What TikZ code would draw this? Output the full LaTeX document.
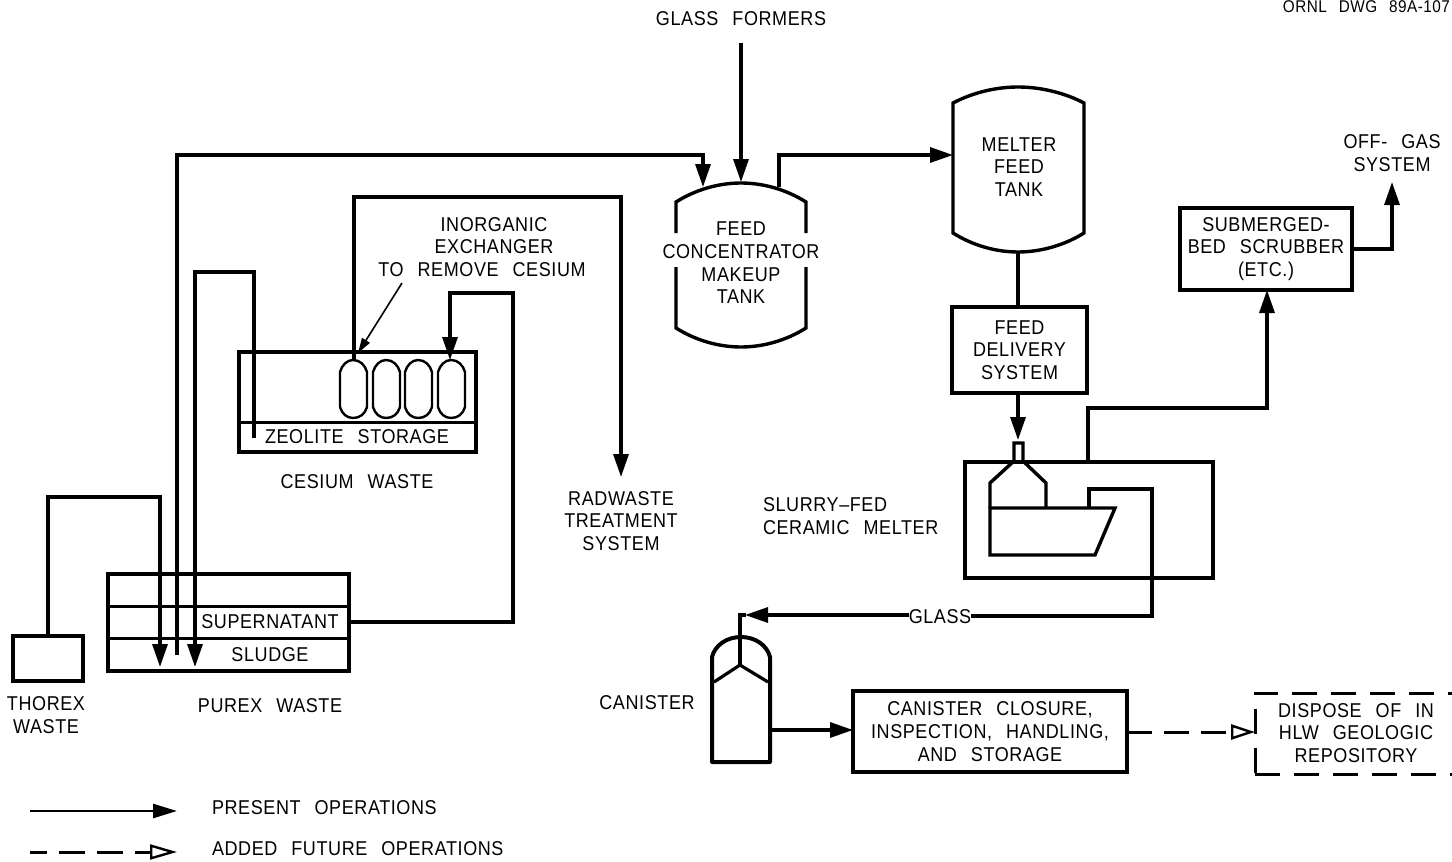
\documentclass[tikz,border=0pt]{standalone}
\usepackage{fontspec}
\setmainfont{Liberation Sans}[FakeStretch=0.9,LetterSpace=3,WordSpace=2.5]
\usetikzlibrary{arrows.meta}
\tikzset{
  x=1pt,y=-1pt,
  wall/.style={line width=3.4pt,line join=miter},
  pipe/.style={line width=3.2pt,line join=miter},
  flow/.style={pipe,-{Triangle[length=23pt,width=15pt]}},
  futureflow/.style={line width=3pt,dash pattern=on 25pt off 12pt,-{Triangle[open,length=24pt,width=15pt,line width=2.4pt]}},
  vessel/.style={draw,line width=3.4pt,inner sep=0pt,outer sep=0pt,font=\fontsize{20}{22.7}\selectfont,align=center},
  lbl/.style={inner sep=0pt,outer sep=0pt,font=\fontsize{20}{22.7}\selectfont,align=center}
}
\newcommand{\boxat}[6]{\node[vessel,anchor=north west,minimum width=#4,minimum height=#5] (#1) at (#2,#3) {#6};}
\begin{document}
\begin{tikzpicture}
\useasboundingbox (0,0) rectangle (1452,862);
\clip (0,0) rectangle (1452,862);
% header
\node[lbl,anchor=east,font=\fontsize{17}{20}\selectfont] (dwg) at (1450,7) {ORNL DWG 89A-107};
\node[lbl] (former) at (741,19) {GLASS FORMERS};
% makeup tank
\draw[wall] (676,233) -- (676,202) .. controls (695,190) and (718,183) .. (741,183) .. controls (764,183) and (787,190) .. (806,202) -- (806,233);
\draw[wall] (676,267) -- (676,328) .. controls (695,340) and (718,347) .. (741,347) .. controls (764,347) and (787,340) .. (806,328) -- (806,267);
\node[lbl] (makeup) at (741,263) {FEED\\CONCENTRATOR\\MAKEUP\\TANK};
\coordinate (makeupIn) at (741,182);
\coordinate (makeupInB) at (703,187);
\coordinate (makeupOut) at (779,187);
% melter feed tank
\draw[wall] (953,103) .. controls (972,93) and (995,87) .. (1018,87) .. controls (1041,87) and (1065,93) .. (1084,103) -- (1084,233) .. controls (1065,245) and (1041,252) .. (1018,252) .. controls (995,252) and (972,245) .. (953,233) -- cycle;
\node[lbl] (meltertank) at (1019,167) {MELTER\\FEED\\TANK};
\coordinate (mtIn) at (953,155);
\coordinate (mtOut) at (1018,252);
\boxat{delivery}{952}{307}{135pt}{86pt}{FEED\\DELIVERY\\SYSTEM}
\boxat{scrub}{1180}{208}{172pt}{82pt}{SUBMERGED-\\BED SCRUBBER\\(ETC.)}
\coordinate (offgas) at (1392,182);
\node[lbl] (offgaslbl) at (1392,153) {OFF- GAS\\SYSTEM};
\coordinate (scrubOut) at (1352,249);
\coordinate (scrubIn) at (1267,290);
% melter
\boxat{melter}{965}{462}{248pt}{116pt}{}
\draw[wall] (1014,461) -- (1014,443) -- (1023,443) -- (1023,461) -- (1046,483) -- (1046,508);
\draw[wall] (1014,461) -- (990,483) -- (990,508);
\draw[wall] (990,508) -- (1115,508) -- (1095,555) -- (990,555) -- cycle;
\coordinate (nozzle) at (1018,440);
\coordinate (meltOutA) at (1088,462);
\coordinate (pour) at (1089,508);
\node[lbl,anchor=west,align=left] (meltlbl) at (763,516) {SLURRY–FED\\CERAMIC MELTER};
\node[lbl] (glass) at (940,617) {GLASS};
% canister
\draw[line width=4pt,line join=round] (712,762) -- (712,657) .. controls (715,645) and (727,637) .. (741,637) .. controls (755,637) and (767,645) .. (770,657) -- (770,762) -- cycle;
\draw[pipe] (714,682) -- (740,665) -- (768,682);
\coordinate (canV) at (740,665);
\coordinate (canTop) at (740,615);
\coordinate (canTip) at (745,615);
\coordinate (canOut) at (770,730);
\node[lbl] (canlbl) at (647,703) {CANISTER};
\boxat{closure}{853}{691}{274pt}{81pt}{CANISTER CLOSURE,\\INSPECTION, HANDLING,\\AND STORAGE}
\node[draw,line width=3pt,dash pattern=on 25pt off 14pt,inner sep=0pt,outer sep=0pt,anchor=north west,minimum width=205pt,minimum height=81pt] (dispose) at (1255,693) {};
\node[lbl] (disposelbl) at (1356,733) {DISPOSE OF IN\\HLW GEOLOGIC\\REPOSITORY};
% cesium
\boxat{zeolite}{239}{352}{237pt}{100pt}{}
\draw[line width=3pt] (239,422) -- (476,422);
\node[lbl] (zeolbl) at (357,437) {ZEOLITE STORAGE};
\foreach \n/\xa in {a/340,b/373,c/405,d/438}{
  \draw[line width=2.4pt] (\xa,372) .. controls (\xa+2,365) and (\xa+7,360) .. (\xa+13,360) .. controls (\xa+20,360) and (\xa+25,365) .. (\xa+27,372) -- (\xa+27,407) .. controls (\xa+25,414) and (\xa+20,418) .. (\xa+13,418) .. controls (\xa+7,418) and (\xa+2,414) .. (\xa,407) -- cycle;
  \coordinate (col\n) at (\xa+13,360);
}
\node[lbl] (inorg) at (482,247) {\hspace*{24pt}INORGANIC\\\hspace*{24pt}EXCHANGER\\TO REMOVE CESIUM};
\node[lbl] (ceslbl) at (357,482) {CESIUM WASTE};
\coordinate (leader) at (402,283);
\coordinate (leaderEnd) at (358,353);
\node[lbl] (radlbl) at (621,521) {RADWASTE\\TREATMENT\\SYSTEM};
\coordinate (radIn) at (621,477);
\coordinate (zeoEnd) at (254,438);
% purex
\boxat{purex}{108}{574}{241pt}{97pt}{}
\draw[line width=3pt] (108,606) -- (349,606) (108,638) -- (349,638);
\node[lbl] (super) at (270,622) {SUPERNATANT};
\node[lbl] (sludge) at (270,655) {SLUDGE};
\node[lbl] (purexlbl) at (270,706) {PUREX WASTE};
\boxat{thorex}{13}{636}{70pt}{45pt}{}
\node[lbl] (thorlbl) at (46,715) {THOREX\\WASTE};
\coordinate (purexA) at (160,667);
\coordinate (purexB) at (177,655);
\coordinate (purexC) at (195,667);
\coordinate (superOut) at (349,622);
% connectors
\draw[flow] (741,43) -- (makeupIn);
\draw[flow] (purexB) -- (177,155) -- (703,155) -- (makeupInB);
\draw[flow] (makeupOut) -- (779,155) -- (mtIn);
\draw[pipe] (mtOut) -- (delivery.north -| mtOut);
\draw[flow] (delivery.south -| nozzle) -- (nozzle);
\draw[flow] (meltOutA) -- (1088,408) -- (1267,408) -- (scrubIn);
\draw[flow] (scrubOut) -- (1392,249) -- (offgas);
\draw[pipe] (pour) -- (1089,489) -- (1152,489) -- (1152,616) -- (glass.east |- 0,616);
\draw[flow] (glass.west |- canTip) -- (canTip);
\draw[pipe] (746,615) -- (canTop) -- (canV);
\draw[flow] (canOut) -- (closure.west |- canOut);
\draw[futureflow] (closure.east |- 0,732) -- (dispose.west |- 0,732);
\draw[flow] (superOut) -- (513,622) -- (513,293) -- (450,293) -- (450,360);
\draw[flow] (354,360) -- (354,197) -- (621,197) -- (radIn);
\draw[flow] (zeoEnd) -- (254,272) -- (195,272) -- (purexC);
\draw[flow] (thorex.north) -- (48,497) -- (160,497) -- (purexA);
\draw[line width=1.6pt,-{Triangle[length=15pt,width=9pt]}] (leader) -- (leaderEnd);
% legend
\coordinate (lgA) at (30,811); \coordinate (lgB) at (177,811);
\coordinate (lgC) at (30,852); \coordinate (lgD) at (177,852);
\draw[line width=2.6pt,-{Triangle[length=24pt,width=14pt]}] (lgA) -- (lgB);
\draw[line width=3pt,dash pattern=on 26pt off 12pt,dash phase=9pt,-{Triangle[open,length=27pt,width=15pt,line width=2.4pt]}] (lgC) -- (lgD);
\node[lbl,anchor=west] (lg1) at (212,808) {PRESENT OPERATIONS};
\node[lbl,anchor=west] (lg2) at (212,849) {ADDED FUTURE OPERATIONS};
\end{tikzpicture}
\end{document}
